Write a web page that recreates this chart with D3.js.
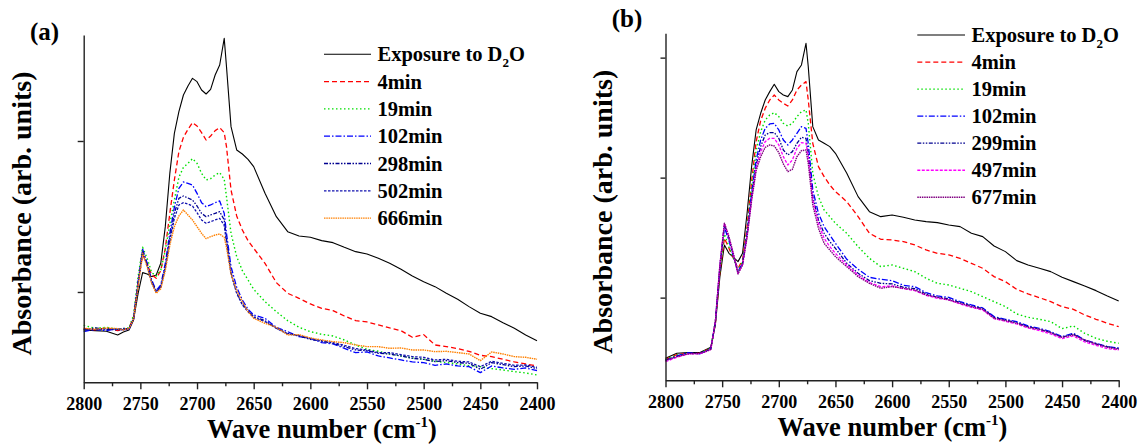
<!DOCTYPE html>
<html>
<head>
<meta charset="utf-8">
<script src="https://cdn.jsdelivr.net/npm/d3@7"></script>
<style>
  body { margin: 0; background: #fff; }
  svg { display: block; }
  text { font-family: "Liberation Serif", "Times New Roman", serif; font-weight: bold; fill: #000; }
</style>
</head>
<body>
<svg id="chart" width="1139" height="445"></svg>
<script>
// Wave numbers (cm^-1) at which both panels were sampled
const waveNumbers = [2800, 2790, 2780, 2770, 2765, 2760, 2756, 2752, 2748, 2744, 2740, 2736, 2732, 2728, 2724, 2720,
  2716, 2712, 2708, 2704, 2700, 2696, 2692, 2688, 2684, 2680, 2676, 2674, 2670, 2665, 2660, 2655, 2650,
  2640, 2630, 2620, 2610, 2600, 2590, 2580, 2570, 2560, 2550, 2540, 2530, 2520, 2510, 2500, 2490, 2480,
  2470, 2460, 2450, 2440, 2430, 2420, 2410, 2400];

const xMajorTicks = [2800, 2750, 2700, 2650, 2600, 2550, 2500, 2450, 2400];
const xMinorTicks = [2775, 2725, 2675, 2625, 2575, 2525, 2475, 2425];

// Panel (a): absorbance, arbitrary units
const aLabels = ["Exposure to D2O", "4min", "19min", "102min", "298min", "502min", "666min"];
const aExposure = [339, 337, 335, 324, 333, 339, 369, 449, 511, 507, 499, 504, 539, 649, 809, 929,
  994, 1044, 1071, 1094, 1084, 1059, 1047, 1061, 1104, 1134, 1214, 1129, 949, 879, 867, 851, 829,
  749, 679, 634, 621, 617, 607, 601, 587, 574, 567, 554, 539, 521, 501, 484, 469, 449,
  431, 409, 389, 379, 361, 344, 324, 307];
const a4min = [343, 339, 345, 337, 341, 344, 379, 479, 564, 539, 504, 494, 517, 584, 689, 789,
  874, 917, 941, 961, 951, 931, 909, 921, 937, 946, 931, 889, 759, 681, 639, 607, 584,
  539, 481, 449, 434, 417, 404, 397, 381, 367, 363, 354, 345, 337, 317, 325, 294, 289,
  283, 275, 263, 259, 251, 243, 237, 231];
const a19min = [353, 344, 347, 341, 343, 345, 384, 499, 587, 554, 511, 501, 519, 577, 657, 729,
  797, 827, 839, 853, 839, 809, 789, 793, 804, 811, 791, 739, 629, 559, 517, 489, 461,
  424, 394, 367, 347, 334, 326, 321, 309, 294, 281, 275, 267, 261, 255, 251, 245, 241,
  237, 232, 229, 223, 219, 214, 210, 204];
const a102min = [334, 341, 337, 343, 339, 341, 374, 484, 581, 539, 489, 457, 474, 539, 629, 707,
  764, 783, 779, 774, 749, 721, 709, 714, 721, 726, 689, 629, 529, 467, 429, 401, 384,
  374, 347, 334, 319, 314, 301, 297, 284, 271, 273, 261, 255, 249, 243, 241, 233, 237,
  231, 229, 211, 231, 225, 221, 225, 217];
const a298min = [339, 345, 341, 339, 344, 342, 374, 479, 577, 534, 484, 454, 469, 529, 614, 689,
  734, 741, 735, 729, 711, 689, 679, 684, 689, 694, 669, 611, 511, 451, 417, 397, 379,
  367, 344, 329, 321, 311, 305, 299, 289, 279, 277, 269, 267, 261, 254, 251, 244, 247,
  241, 239, 221, 241, 235, 229, 231, 223];
const a502min = [341, 339, 343, 341, 339, 343, 371, 474, 573, 531, 481, 453, 467, 524, 604, 674,
  714, 721, 717, 711, 691, 669, 659, 664, 669, 674, 653, 601, 507, 449, 414, 394, 377,
  364, 344, 327, 323, 313, 307, 301, 293, 283, 279, 271, 271, 265, 259, 257, 249, 251,
  245, 243, 229, 245, 239, 233, 234, 227];
const a666min = [344, 341, 345, 343, 339, 343, 371, 471, 569, 529, 479, 449, 463, 517, 594, 649,
  681, 699, 684, 669, 649, 629, 613, 619, 624, 627, 617, 587, 507, 457, 424, 394, 374,
  359, 347, 324, 325, 315, 309, 304, 301, 294, 289, 289, 284, 285, 279, 279, 274, 275,
  271, 267, 247, 273, 267, 259, 257, 251];
const aYTicks = [453, 906];

// Panel (b): absorbance, arbitrary units
const bLabels = ["Exposure to D2O", "4min", "19min", "102min", "299min", "497min", "677min"];
const bExposure = [178, 193, 195, 195, 203, 211, 278, 423, 518, 493, 481, 468, 493, 613, 753, 863,
  913, 953, 978, 1000, 978, 968, 963, 983, 1038, 1058, 1123, 1053, 873, 833, 823, 813, 793,
  733, 663, 618, 603, 608, 601, 593, 588, 585, 578, 573, 553, 543, 515, 498, 471, 458,
  448, 438, 421, 408, 395, 381, 365, 350];
const b4min = [175, 189, 193, 193, 201, 209, 283, 438, 538, 508, 478, 448, 473, 573, 708, 828,
  891, 928, 953, 968, 953, 943, 935, 953, 983, 998, 1008, 953, 823, 753, 723, 698, 678,
  648, 603, 553, 535, 533, 528, 518, 503, 493, 488, 478, 463, 448, 423, 408, 385, 371,
  360, 348, 333, 325, 308, 295, 283, 273];
const b19min = [175, 187, 193, 191, 201, 208, 285, 443, 551, 513, 478, 443, 468, 563, 693, 801,
  858, 893, 908, 915, 903, 883, 875, 883, 903, 918, 923, 883, 733, 663, 623, 603, 583,
  553, 513, 478, 453, 458, 448, 438, 418, 403, 398, 388, 378, 363, 348, 333, 311, 301,
  295, 288, 267, 275, 253, 238, 229, 223];
const b102min = [171, 185, 195, 191, 199, 207, 288, 453, 571, 531, 483, 438, 463, 553, 673, 773,
  833, 868, 881, 883, 863, 833, 818, 833, 853, 873, 868, 823, 683, 613, 573, 548, 523,
  475, 445, 421, 415, 411, 397, 393, 375, 365, 361, 348, 338, 329, 303, 295, 288, 275,
  268, 258, 243, 253, 233, 223, 213, 209];
const b299min = [173, 183, 193, 193, 199, 207, 288, 455, 579, 537, 485, 435, 461, 548, 663, 758,
  813, 848, 855, 855, 838, 803, 788, 798, 823, 841, 838, 793, 663, 593, 553, 528, 508,
  463, 433, 411, 403, 401, 391, 387, 371, 361, 357, 345, 335, 327, 301, 293, 285, 273,
  265, 255, 241, 251, 231, 221, 213, 207];
const b497min = [168, 181, 191, 191, 197, 205, 287, 457, 583, 541, 488, 433, 459, 545, 655, 748,
  798, 828, 838, 838, 818, 783, 758, 773, 808, 825, 823, 783, 653, 583, 538, 513, 493,
  458, 428, 405, 393, 395, 387, 381, 367, 358, 353, 341, 331, 323, 297, 289, 281, 269,
  261, 251, 237, 245, 227, 217, 207, 203];
const b677min = [171, 183, 191, 193, 197, 205, 287, 457, 583, 543, 491, 431, 458, 541, 651, 741,
  783, 811, 818, 815, 795, 761, 738, 745, 783, 801, 803, 763, 638, 568, 523, 503, 483,
  453, 423, 403, 388, 393, 388, 383, 368, 361, 353, 343, 333, 325, 298, 291, 283, 271,
  265, 255, 241, 248, 233, 221, 211, 205];
const bYTicks = [360, 720, 1080];

// Line styles, one per series slot
const aStyles = [
  { color: "#000000", dash: null, width: 1.1 },
  { color: "#ff0000", dash: "5,3", width: 1.3 },
  { color: "#00e000", dash: "1.5,2.5", width: 1.4 },
  { color: "#0000ff", dash: "6,2,1.5,2", width: 1.3 },
  { color: "#000090", dash: "4,1.5,1.5,1.5,1.5,1.5", width: 1.3 },
  { color: "#1010b0", dash: "2.5,1.5", width: 1.3 },
  { color: "#ff8000", dash: "1.5,0.8", width: 1.4 }
];
const bStyles = [
  { color: "#000000", dash: null, width: 1.1 },
  { color: "#ff0000", dash: "5,3", width: 1.3 },
  { color: "#00e000", dash: "1.5,2.5", width: 1.4 },
  { color: "#0000ff", dash: "6,2,1.5,2", width: 1.3 },
  { color: "#000090", dash: "4,1.5,1.5,1.5,1.5,1.5", width: 1.3 },
  { color: "#ff00ff", dash: "3,1.5", width: 1.3 },
  { color: "#800080", dash: "1.5,0.8", width: 1.4 }
];

const svg = d3.select("#chart");

function drawPanel(p) {
  const x = d3.scaleLinear().domain([2800, 2400]).range([p.left, p.right]);
  const y = d3.scaleLinear().domain(p.yDomain).range([p.bottom, p.top]);
  const g = svg.append("g");

  const line = d3.line()
    .x((d, i) => x(waveNumbers[i]))
    .y(d => y(d))
    .curve(d3.curveLinear);

  // spectra, drawn oldest last so the exposure curve stays on top like the original plotting order
  p.series.forEach((vals, k) => {
    const st = p.styles[k];
    g.append("path")
      .attr("d", line(vals))
      .attr("fill", "none")
      .attr("stroke", st.color)
      .attr("stroke-width", st.width)
      .attr("stroke-linejoin", "round")
      .attr("stroke-dasharray", st.dash);
  });

  // x axis: labelled major ticks and short minor ticks
  const xAxis = g.append("g")
    .attr("transform", `translate(0,${p.bottom})`)
    .call(d3.axisBottom(x).tickValues(xMajorTicks).tickFormat(d3.format("d"))
      .tickSize(7).tickSizeOuter(0).tickPadding(8));
  g.append("g")
    .attr("transform", `translate(0,${p.bottom})`)
    .call(d3.axisBottom(x).tickValues(xMinorTicks).tickFormat("").tickSize(4).tickSizeOuter(0))
    .select(".domain").remove();
  xAxis.selectAll("text").style("font-size", "18px");

  // y axis without numbers
  g.append("g")
    .attr("transform", `translate(${p.left},0)`)
    .call(d3.axisLeft(y).tickValues(p.yTicks).tickFormat("").tickSize(p.yTickLen).tickSizeOuter(0));

  g.selectAll(".domain, .tick line").attr("stroke", "#222").attr("stroke-width", 1.4);

  // axis titles
  const xt = g.append("text")
    .attr("x", p.xTitleX).attr("y", p.xTitleY)
    .attr("text-anchor", "middle").style("font-size", "26.5px");
  xt.append("tspan").text("Wave number (cm");
  xt.append("tspan").attr("dy", -11).style("font-size", "15px").text("-1");
  xt.append("tspan").attr("dy", 11).text(")");

  g.append("text")
    .attr("transform", `translate(${p.yTitleX},${p.yTitleY}) rotate(-90)`)
    .attr("text-anchor", "middle").style("font-size", "28px")
    .text("Absorbance (arb. units)");

  g.append("text")
    .attr("x", p.tagX).attr("y", p.tagY)
    .style("font-size", "25px").text(p.tag);

  // legend
  const lg = g.append("g");
  p.labels.forEach((lab, k) => {
    const st = p.styles[k];
    const cy = p.legY + k * p.legStep;
    lg.append("line")
      .attr("x1", p.legX1).attr("x2", p.legX2).attr("y1", cy).attr("y2", cy)
      .attr("stroke", st.color).attr("stroke-width", st.width)
      .attr("stroke-dasharray", st.dash);
    const t = lg.append("text")
      .attr("x", p.legX2 + 6.5).attr("y", cy + 7)
      .style("font-size", "20.5px");
    if (lab.includes("D2O")) {
      t.append("tspan").text("Exposure to D");
      t.append("tspan").attr("dy", 6).style("font-size", "13px").text("2");
      t.append("tspan").attr("dy", -6).text("O");
    } else {
      t.text(lab);
    }
  });
}

drawPanel({
  left: 83.7, right: 537, top: 35, bottom: 382.3,
  yDomain: [182, 1224], yTicks: aYTicks, yTickLen: 6,
  series: [aExposure, a4min, a19min, a102min, a298min, a502min, a666min],
  styles: aStyles, labels: aLabels,
  xTitleX: 322, xTitleY: 438, yTitleX: 30.5, yTitleY: 213.5,
  tag: "(a)", tagX: 30, tagY: 40,
  legX1: 324, legX2: 371, legY: 54.3, legStep: 27.3
});

drawPanel({
  left: 665.5, right: 1118.7, top: 33.3, bottom: 380.3,
  yDomain: [112, 1153], yTicks: bYTicks, yTickLen: 5,
  series: [bExposure, b4min, b19min, b102min, b299min, b497min, b677min],
  styles: bStyles, labels: bLabels,
  xTitleX: 892.5, xTitleY: 436, yTitleX: 612, yTitleY: 211.7,
  tag: "(b)", tagX: 611.7, tagY: 26.7,
  legX1: 917.3, legX2: 965, legY: 35, legStep: 27.05
});
</script>
</body>
</html>
